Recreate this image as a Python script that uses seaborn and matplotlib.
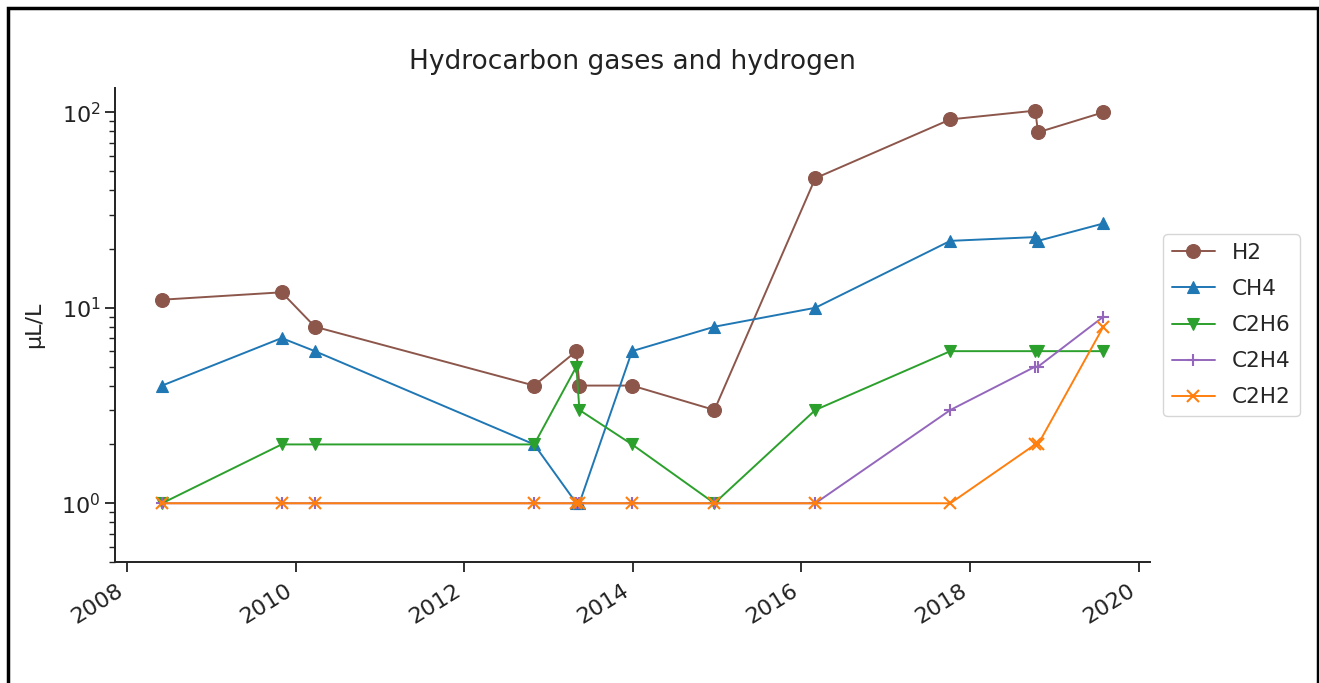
import matplotlib
matplotlib.use("Agg")
import matplotlib.pyplot as plt
import matplotlib.dates as mdates
from matplotlib.patches import Rectangle
import pandas as pd
import seaborn as sns

dates = ["2008-06-01", "2009-11-01", "2010-03-25", "2012-10-30", "2013-05-01",
         "2013-05-14", "2013-12-28", "2014-12-20", "2016-03-01", "2017-10-07",
         "2018-10-10", "2018-10-22", "2019-08-01"]
h2 = [11, 12, 8, 4, 6, 4, 4, 3, 46, 92, 102, 79, 100]
ch4 = [4, 7, 6, 2, 1, 1, 6, 8, 10, 22, 23, 22, 27]
c2h6 = [1, 2, 2, 2, 5, 3, 2, 1, 3, 6, 6, 6, 6]
c2h4 = [1, 1, 1, 1, 1, 1, 1, 1, 1, 3, 5, 5, 9]
c2h2 = [1, 1, 1, 1, 1, 1, 1, 1, 1, 1, 2, 2, 8]
labels = ["H2", "CH4", "C2H6", "C2H4", "C2H2"]

sns.set_style("ticks")
plt.rcParams["font.family"] = ["DejaVu Sans"]

x = pd.to_datetime(dates)
series = [h2, ch4, c2h6, c2h4, c2h2]
colors = ["#8c564b", "#1f77b4", "#2ca02c", "#9467bd", "#ff7f0e"]
markers = ["o", "^", "v", "+", "x"]
msizes = [10, 8.5, 8.5, 9, 8]

fig = plt.figure(figsize=(13.19, 6.83), dpi=100)
ax = fig.add_axes([0.0872, 0.177, 0.785, 0.694])

for lab, vals, col, mk, ms in zip(labels, series, colors, markers, msizes):
    df = pd.DataFrame({"date": x, "val": vals})
    sns.lineplot(data=df, x="date", y="val", ax=ax, color=col, marker=mk,
                 markersize=ms, linewidth=1.4, label=lab, estimator=None,
                 markeredgecolor=col, markeredgewidth=1.5 if mk in "+x" else 0.8)

ax.set_yscale("log")
ax.set_ylim(0.5, 133)
ax.xaxis.set_major_locator(mdates.YearLocator(2))
ax.xaxis.set_major_formatter(mdates.DateFormatter("%Y"))
ax.set_xlabel("")
ax.set_ylabel("µL/L", fontsize=16, color="#222222", labelpad=12)
ax.set_title("Hydrocarbon gases and hydrogen", fontsize=19, color="#222222", pad=14)
ax.tick_params(axis="both", which="major", labelsize=16, length=7, width=1.3, colors="#222222")
ax.tick_params(axis="x", which="major", pad=6)
ax.tick_params(axis="y", which="minor", length=4, width=1.0, colors="#222222")
for lbl in ax.get_xticklabels():
    lbl.set_rotation(32)
    lbl.set_ha("right")
for s in ["left", "bottom"]:
    ax.spines[s].set_linewidth(1.4)
    ax.spines[s].set_color("#222222")
sns.despine(ax=ax)

leg = ax.legend(loc="center left", bbox_to_anchor=(1.0, 0.5), fontsize=15.5,
                frameon=True, borderaxespad=0.6, labelspacing=0.75)

fig.patches.append(Rectangle((8 / 1319, -0.02), 1309.5 / 1319, (683 - 8) / 683 + 0.02,
                             transform=fig.transFigure, fill=False, lw=2.5,
                             edgecolor="black", zorder=10))

fig.savefig("out.png", dpi=100)
